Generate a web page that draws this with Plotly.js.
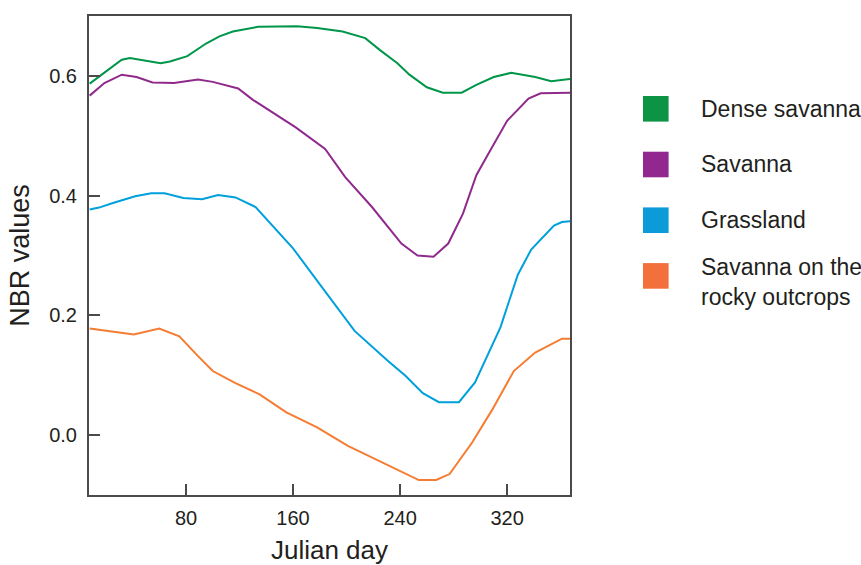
<!DOCTYPE html>
<html>
<head>
<meta charset="utf-8">
<script src="https://cdn.plot.ly/plotly-3.0.1.min.js"></script>
<style>
  html, body { margin: 0; padding: 0; background: #ffffff; }
  #chart { width: 861px; height: 565px; }
</style>
</head>
<body>
<div id="chart"></div>
<script>
// Seasonal NBR profiles by vegetation class (Julian day vs NBR)
const seriesNames = ["Dense savanna", "Savanna", "Grassland", "Savanna on the<br>rocky outcrops"];
const seriesColors = ["#00964a", "#8f2a8c", "#00a0dc", "#f57c32"];
const legendColors = ["#0c9444", "#91278f", "#0a9bd8", "#f36f3c"];

const denseDays = [8, 32, 38, 61, 68, 81, 95, 105, 115, 134, 163, 178, 197, 214, 225, 238, 247, 260, 272, 286, 297, 310, 323, 341, 353, 367];
const denseNBR  = [0.587, 0.627, 0.630, 0.621, 0.624, 0.633, 0.654, 0.666, 0.674, 0.682, 0.683, 0.680, 0.674, 0.663, 0.643, 0.621, 0.602, 0.581, 0.572, 0.572, 0.585, 0.598, 0.605, 0.598, 0.591, 0.595];

const savDays = [8, 19, 32, 43, 55, 71, 89, 100, 119, 130, 162, 184, 199, 219, 241, 253, 265, 276, 287, 297, 306, 320, 336, 345, 367];
const savNBR  = [0.567, 0.588, 0.602, 0.598, 0.589, 0.588, 0.594, 0.590, 0.579, 0.560, 0.514, 0.478, 0.431, 0.381, 0.320, 0.300, 0.298, 0.320, 0.370, 0.434, 0.470, 0.525, 0.562, 0.571, 0.572];

const grassDays = [8, 15, 26, 42, 54, 64, 78, 92, 104, 117, 132, 160, 181, 206, 231, 244, 257, 269, 284, 296, 315, 328, 338, 355, 361, 367];
const grassNBR  = [0.377, 0.380, 0.388, 0.399, 0.404, 0.404, 0.396, 0.394, 0.401, 0.397, 0.381, 0.312, 0.249, 0.174, 0.124, 0.099, 0.070, 0.055, 0.055, 0.088, 0.180, 0.268, 0.310, 0.350, 0.356, 0.357];

const rockDays = [8, 41, 60, 75, 89, 100, 117, 135, 155, 178, 201, 224, 247, 254, 267, 277, 294, 309, 325, 341, 361, 367];
const rockNBR  = [0.178, 0.168, 0.178, 0.165, 0.132, 0.107, 0.087, 0.068, 0.038, 0.013, -0.018, -0.043, -0.068, -0.075, -0.075, -0.065, -0.012, 0.043, 0.107, 0.138, 0.161, 0.161];

const xTicks = [80, 160, 240, 320];
const yTicks = [0.0, 0.2, 0.4, 0.6];

const xs = [denseDays, savDays, grassDays, rockDays];
const ys = [denseNBR, savNBR, grassNBR, rockNBR];

const traces = xs.map((x, i) => ({
  type: "scatter",
  mode: "lines",
  x: x,
  y: ys[i],
  name: seriesNames[i],
  line: { color: seriesColors[i], width: 2 },
  showlegend: false,
  hoverinfo: "x+y+name"
}));

// Plot area in page pixels, used to place the legend block beside it
const W = 861, H = 565;
const M = { l: 89, r: 291, t: 16, b: 70 };
const plotW = W - M.l - M.r, plotH = H - M.t - M.b;
const px2paperX = px => (px - M.l) / plotW;
const px2paperY = py => (H - M.b - py) / plotH;

const shapes = [];
const annotations = [];
const legendTop = 96, legendStep = 55.7, boxSize = 25.6, boxLeft = 643, textLeft = 699;
seriesNames.forEach((name, i) => {
  const top = legendTop + i * legendStep;
  shapes.push({
    type: "rect", xref: "paper", yref: "paper",
    x0: px2paperX(boxLeft), x1: px2paperX(boxLeft + boxSize),
    y0: px2paperY(top + boxSize), y1: px2paperY(top),
    fillcolor: legendColors[i], line: { width: 0 }
  });
  const multi = name.indexOf("<br>") >= 0;
  annotations.push({
    xref: "paper", yref: "paper",
    x: px2paperX(textLeft), y: px2paperY(top + boxSize / 2 + (multi ? 6 : 0)),
    xanchor: "left", yanchor: "middle", align: "left",
    text: name, showarrow: false,
    font: { family: "Liberation Sans, Arial, sans-serif", size: 23, color: "#231f20" }
  });
});

const axisCommon = {
  showline: true, mirror: true, linecolor: "#4a4a4a", linewidth: 2,
  ticks: "inside", ticklen: 11, tickwidth: 2, tickcolor: "#4a4a4a",
  showgrid: false, zeroline: false,
  tickfont: { family: "Liberation Sans, Arial, sans-serif", size: 20, color: "#231f20" }
};

const layout = {
  width: W, height: H,
  margin: M,
  paper_bgcolor: "#ffffff", plot_bgcolor: "#ffffff",
  showlegend: false,
  xaxis: Object.assign({}, axisCommon, {
    range: [7.5, 367],
    tickmode: "array", tickvals: xTicks, ticktext: xTicks.map(String),
    ticklabelstandoff: 4,
    title: { text: "Julian day", standoff: 14,
      font: { family: "Liberation Sans, Arial, sans-serif", size: 26, color: "#231f20" } }
  }),
  yaxis: Object.assign({}, axisCommon, {
    range: [-0.1, 0.7],
    tickmode: "array", tickvals: yTicks, ticktext: yTicks.map(v => v.toFixed(1)),
    ticklabelstandoff: 6,
    title: { text: "NBR values", standoff: 12,
      font: { family: "Liberation Sans, Arial, sans-serif", size: 27, color: "#231f20" } }
  }),
  shapes: shapes,
  annotations: annotations
};

Plotly.newPlot("chart", traces, layout, { displayModeBar: false, staticPlot: true });
</script>
</body>
</html>
